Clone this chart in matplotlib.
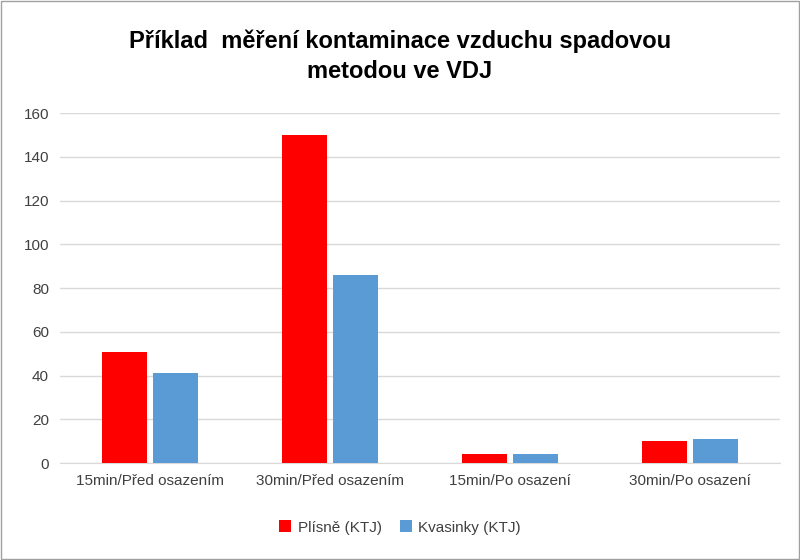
import matplotlib
matplotlib.use("Agg")
import matplotlib.pyplot as plt
import numpy as np

categories = ["15min/Před osazením", "30min/Před osazením", "15min/Po osazení", "30min/Po osazení"]
plisne = [51, 150, 4, 10]
kvasinky = [41, 86, 4, 11]
series_names = ["Plísně (KTJ)", "Kvasinky (KTJ)"]
yticks = [0, 20, 40, 60, 80, 100, 120, 140, 160]

plt.rcParams["font.family"] = "Liberation Sans"
fig = plt.figure(figsize=(8, 5.6), dpi=100)
ax = fig.add_axes([0.075, 0.173, 0.9, 0.625])
x = np.arange(len(categories))
w = 0.25
ax.bar(x - 0.14, plisne, w, color="#FF0000", label=series_names[0], zorder=3)
ax.bar(x + 0.14, kvasinky, w, color="#5B9BD5", label=series_names[1], zorder=3)
ax.set_xlim(-0.5, len(categories) - 0.5)
ax.set_ylim(0, 160)
ax.set_yticks(yticks)
ax.set_xticks(x)
ax.set_xticklabels(categories)
ax.grid(axis="y", color="#D9D9D9", linewidth=1, zorder=0)
for s in ["top", "right", "left"]:
    ax.spines[s].set_visible(False)
ax.spines["bottom"].set_color("#D9D9D9")
ax.tick_params(length=0, labelsize=11, colors="#404040", pad=8)
fig.text(0.5, 0.90, "Příklad  měření kontaminace vzduchu spadovou\nmetodou ve VDJ",
         ha="center", va="center", fontsize=17, fontweight="bold", linespacing=1.4)
fig.legend(loc="center", bbox_to_anchor=(0.5, 0.058), ncol=2, frameon=False,
           fontsize=11, handlelength=0.8, handleheight=0.8, columnspacing=1.2,
           handletextpad=0.4, labelcolor="#404040")
fig.patches.append(plt.Rectangle((0.001, 0.001), 0.998, 0.998, transform=fig.transFigure,
                                 fill=False, edgecolor="#A0A0A0", linewidth=1))
fig.savefig("out.png", dpi=100)
